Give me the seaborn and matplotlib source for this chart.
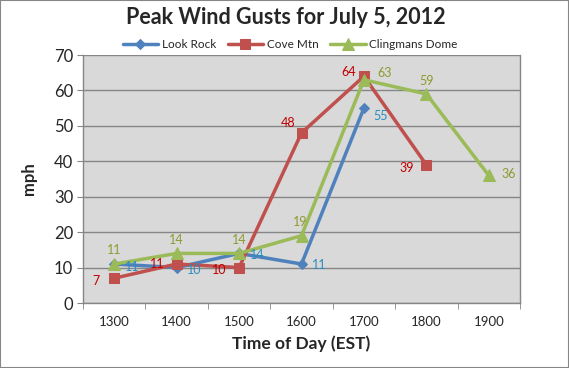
import pandas as pd
import seaborn as sns
import matplotlib.pyplot as plt
from matplotlib.ticker import FixedLocator, NullFormatter

hours = ['1300', '1400', '1500', '1600', '1700', '1800', '1900']
look_rock = [11, 10, 14, 11, 55]
cove_mtn = [7, 11, 10, 48, 64, 39]
clingmans = [11, 14, 14, 19, 63, 59, 36]

names = ['Look Rock', 'Cove Mtn', 'Clingmans Dome']
series = [look_rock, cove_mtn, clingmans]

df = pd.concat([
    pd.DataFrame({'Time': hours[:len(v)], 'mph': v, 'Station': n})
    for n, v in zip(names, series)
], ignore_index=True)

colors = {'Look Rock': '#4F81BD', 'Cove Mtn': '#C0504D', 'Clingmans Dome': '#9BBB59'}
markers = {'Look Rock': 'D', 'Cove Mtn': 's', 'Clingmans Dome': '^'}
msize = {'Look Rock': 5.5, 'Cove Mtn': 7.5, 'Clingmans Dome': 9}
label_col = {'Look Rock': '#2A8CC0', 'Cove Mtn': '#C00000', 'Clingmans Dome': '#8F9A30'}

sns.set_style('white')
plt.rcParams['font.family'] = ['Lato', 'DejaVu Sans']

fig = plt.figure(figsize=(5.69, 3.68), dpi=100)
ax = fig.add_axes([83 / 569, 1 - 303 / 368, (520 - 83) / 569, (303 - 55) / 368])
ax.set_facecolor('#D9D9D9')

for n in names:
    sub = df[df.Station == n]
    sns.lineplot(ax=ax, data=sub, x='Time', y='mph', color=colors[n], marker=markers[n],
                 markersize=msize[n], markeredgecolor=colors[n], linewidth=2.5,
                 sort=False, label=n)

# data label offsets (points)
offsets = {
    'Look Rock': [(13, -2), (13, -2), (13, -1), (13, -1), (12, -6)],
    'Cove Mtn': [(-13, -2), (-14, 0), (-14, -2), (-10, 7), (-11, 3), (-14, -2)],
    'Clingmans Dome': [(0, 10), (0, 10), (0, 10), (-1, 10), (15, 5), (0, 9), (14, 1)],
}
for n, v in zip(names, series):
    for i, val in enumerate(v):
        ax.annotate(str(val), (i, val), xytext=offsets[n][i], textcoords='offset points',
                    ha='center', va='center', fontsize=9, color=label_col[n])

ax.set_xlim(-0.5, 6.5)
ax.set_ylim(0, 70)
ax.set_yticks(range(0, 71, 10))
ax.yaxis.grid(True, color='#868686', linewidth=1)
ax.xaxis.grid(False)
ax.tick_params(axis='y', length=4, color='#868686', labelsize=12, pad=3, left=True)
ax.tick_params(axis='x', which='major', length=0, labelsize=9.5, pad=9)
ax.xaxis.set_minor_locator(FixedLocator([i - 0.5 for i in range(8)]))
ax.xaxis.set_minor_formatter(NullFormatter())
ax.tick_params(axis='x', which='minor', length=4, color='#868686', bottom=True)
for s in ax.spines.values():
    s.set_color('#868686')
    s.set_linewidth(1)
ax.spines['top'].set_visible(False)

ax.set_xlabel('Time of Day (EST)', fontsize=12.5, fontweight='bold', labelpad=6)
ax.set_ylabel('mph', fontsize=12, fontweight='bold', labelpad=12)

ax.legend(loc='center', bbox_to_anchor=(290 / 569, 1 - 45 / 368), bbox_transform=fig.transFigure,
          ncol=3, frameon=False, fontsize=8.5, handlelength=3, columnspacing=1.0,
          handletextpad=0.3, borderaxespad=0)

fig.suptitle('Peak Wind Gusts for July 5, 2012', fontsize=15.5, fontweight='bold', y=1 - 7 / 368,
             va='top', x=286 / 569)

fig.patches.append(plt.Rectangle((0, 0), 1, 1, transform=fig.transFigure, fill=False,
                                 edgecolor='#868686', linewidth=1.5))

fig.savefig('out.png', dpi=100)
